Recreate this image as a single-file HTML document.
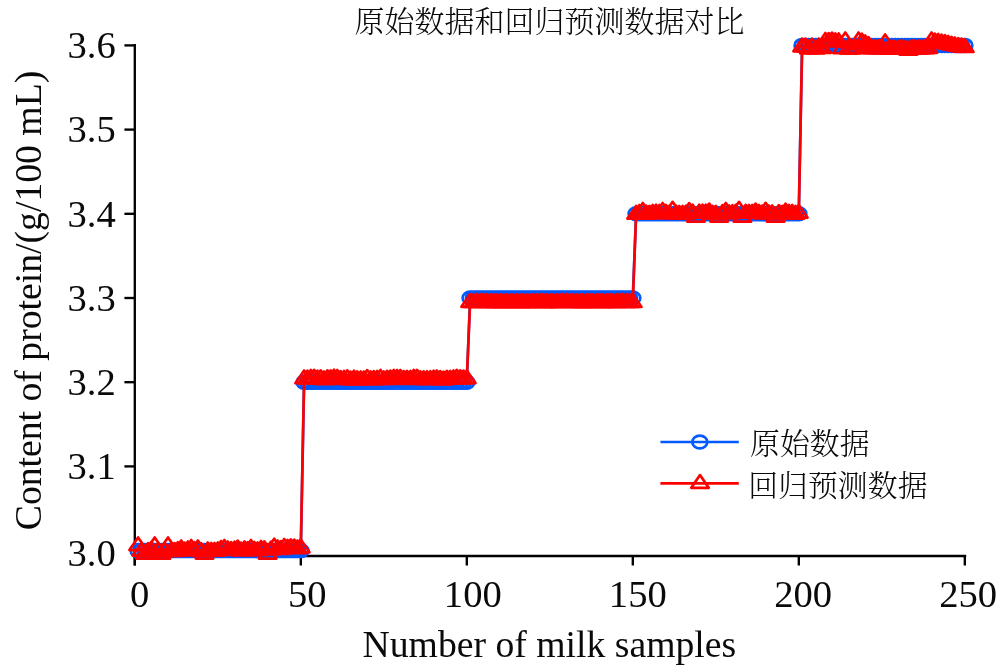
<!DOCTYPE html>
<html lang="zh"><head><meta charset="utf-8"><title>原始数据和回归预测数据对比</title>
<style>html,body{margin:0;padding:0;background:#fff}body{width:1000px;height:668px;overflow:hidden}svg{display:block}text{font-family:"Liberation Serif","Noto Serif CJK SC",serif;fill:#0a0a0a}.cj{font-family:"Liberation Serif","Noto Serif CJK SC",serif;font-size:29.9px;font-weight:300}.tk{font-size:38.6px}.lb{font-size:37.7px}</style></head><body>
<svg width="1000" height="668" viewBox="0 0 1000 668">
<rect width="1000" height="668" fill="#fff"/>
<text class="cj" x="549.6" y="31.5" style="font-size:30px" text-anchor="middle">原始数据和回归预测数据对比</text>
<g stroke="#000" stroke-width="2.35" fill="none" stroke-linecap="butt">
<path d="M134.8 44.1V565.5"/>
<path d="M133.5 556H966.2"/>
<path d="M124.4 466.4H134.8"/>
<path d="M124.4 382.2H134.8"/>
<path d="M124.4 298H134.8"/>
<path d="M124.4 213.8H134.8"/>
<path d="M124.4 129.6H134.8"/>
<path d="M124.4 45.4H134.8"/>
<path d="M134.8 556V565.5"/>
<path d="M300.8 556V565.5"/>
<path d="M466.8 556V565.5"/>
<path d="M632.8 556V565.5"/>
<path d="M798.8 556V565.5"/>
<path d="M964.8 556V565.5"/>
</g>
<text class="tk" x="115.7" y="566.3" text-anchor="end">3.0</text>
<text class="tk" x="115.7" y="479.1" text-anchor="end">3.1</text>
<text class="tk" x="115.7" y="394.9" text-anchor="end">3.2</text>
<text class="tk" x="115.7" y="310.7" text-anchor="end">3.3</text>
<text class="tk" x="115.7" y="226.5" text-anchor="end">3.4</text>
<text class="tk" x="115.7" y="142.3" text-anchor="end">3.5</text>
<text class="tk" x="115.7" y="58.1" text-anchor="end">3.6</text>
<text class="tk" x="139.6" y="606.7" text-anchor="middle">0</text>
<text class="tk" x="307.2" y="606.7" text-anchor="middle">50</text>
<text class="tk" x="472.8" y="606.7" text-anchor="middle">100</text>
<text class="tk" x="637.8" y="606.7" text-anchor="middle">150</text>
<text class="tk" x="803.2" y="606.7" text-anchor="middle">200</text>
<text class="tk" x="968.2" y="606.7" text-anchor="middle">250</text>
<text class="lb" x="549.4" y="656.7" text-anchor="middle">Number of milk samples</text>
<text class="lb" transform="translate(41.2 300.5) rotate(-90)" text-anchor="middle">Content of protein/(g/100 mL)</text>
<g stroke="#005aff" stroke-width="2.7" fill="none">
<polyline stroke-width="2.7" points="138.1,550.6 141.4,550.6 144.8,550.6 148.1,550.6 151.4,550.6 154.7,550.6 158,550.6 161.4,550.6 164.7,550.6 168,550.6 171.3,550.6 174.6,550.6 178,550.6 181.3,550.6 184.6,550.6 187.9,550.6 191.2,550.6 194.6,550.6 197.9,550.6 201.2,550.6 204.5,550.6 207.8,550.6 211.2,550.6 214.5,550.6 217.8,550.6 221.1,550.6 224.4,550.6 227.8,550.6 231.1,550.6 234.4,550.6 237.7,550.6 241,550.6 244.4,550.6 247.7,550.6 251,550.6 254.3,550.6 257.6,550.6 261,550.6 264.3,550.6 267.6,550.6 270.9,550.6 274.2,550.6 277.6,550.6 280.9,550.6 284.2,550.6 287.5,550.6 290.8,550.6 294.2,550.6 297.5,550.6 300.8,550.6 304.1,382.2 307.4,382.2 310.8,382.2 314.1,382.2 317.4,382.2 320.7,382.2 324,382.2 327.4,382.2 330.7,382.2 334,382.2 337.3,382.2 340.6,382.2 344,382.2 347.3,382.2 350.6,382.2 353.9,382.2 357.2,382.2 360.6,382.2 363.9,382.2 367.2,382.2 370.5,382.2 373.8,382.2 377.2,382.2 380.5,382.2 383.8,382.2 387.1,382.2 390.4,382.2 393.8,382.2 397.1,382.2 400.4,382.2 403.7,382.2 407,382.2 410.4,382.2 413.7,382.2 417,382.2 420.3,382.2 423.6,382.2 427,382.2 430.3,382.2 433.6,382.2 436.9,382.2 440.2,382.2 443.6,382.2 446.9,382.2 450.2,382.2 453.5,382.2 456.8,382.2 460.2,382.2 463.5,382.2 466.8,382.2 470.1,298 473.4,298 476.8,298 480.1,298 483.4,298 486.7,298 490,298 493.4,298 496.7,298 500,298 503.3,298 506.6,298 510,298 513.3,298 516.6,298 519.9,298 523.2,298 526.6,298 529.9,298 533.2,298 536.5,298 539.8,298 543.2,298 546.5,298 549.8,298 553.1,298 556.4,298 559.8,298 563.1,298 566.4,298 569.7,298 573,298 576.4,298 579.7,298 583,298 586.3,298 589.6,298 593,298 596.3,298 599.6,298 602.9,298 606.2,298 609.6,298 612.9,298 616.2,298 619.5,298 622.8,298 626.2,298 629.5,298 632.8,298 636.1,213.8 639.4,213.8 642.8,213.8 646.1,213.8 649.4,213.8 652.7,213.8 656,213.8 659.4,213.8 662.7,213.8 666,213.8 669.3,213.8 672.6,213.8 676,213.8 679.3,213.8 682.6,213.8 685.9,213.8 689.2,213.8 692.6,213.8 695.9,213.8 699.2,213.8 702.5,213.8 705.8,213.8 709.2,213.8 712.5,213.8 715.8,213.8 719.1,213.8 722.4,213.8 725.8,213.8 729.1,213.8 732.4,213.8 735.7,213.8 739,213.8 742.4,213.8 745.7,213.8 749,213.8 752.3,213.8 755.6,213.8 759,213.8 762.3,213.8 765.6,213.8 768.9,213.8 772.2,213.8 775.6,213.8 778.9,213.8 782.2,213.8 785.5,213.8 788.8,213.8 792.2,213.8 795.5,213.8 798.8,213.8 802.1,45.4 805.4,45.4 808.8,45.4 812.1,45.4 815.4,45.4 818.7,45.4 822,45.4 825.4,45.4 828.7,45.4 832,45.4 835.3,45.4 838.6,45.4 842,45.4 845.3,45.4 848.6,45.4 851.9,45.4 855.2,45.4 858.6,45.4 861.9,45.4 865.2,45.4 868.5,45.4 871.8,45.4 875.2,45.4 878.5,45.4 881.8,45.4 885.1,45.4 888.4,45.4 891.8,45.4 895.1,45.4 898.4,45.4 901.7,45.4 905,45.4 908.4,45.4 911.7,45.4 915,45.4 918.3,45.4 921.6,45.4 925,45.4 928.3,45.4 931.6,45.4 934.9,45.4 938.2,45.4 941.6,45.4 944.9,45.4 948.2,45.4 951.5,45.4 954.8,45.4 958.2,45.4 961.5,45.4 964.8,45.4"/>
<ellipse cx="138.1" cy="550.6" rx="7.5" ry="6.4"/>
<ellipse cx="141.4" cy="550.6" rx="7.5" ry="6.4"/>
<ellipse cx="144.8" cy="550.6" rx="7.5" ry="6.4"/>
<ellipse cx="148.1" cy="550.6" rx="7.5" ry="6.4"/>
<ellipse cx="151.4" cy="550.6" rx="7.5" ry="6.4"/>
<ellipse cx="154.7" cy="550.6" rx="7.5" ry="6.4"/>
<ellipse cx="158" cy="550.6" rx="7.5" ry="6.4"/>
<ellipse cx="161.4" cy="550.6" rx="7.5" ry="6.4"/>
<ellipse cx="164.7" cy="550.6" rx="7.5" ry="6.4"/>
<ellipse cx="168" cy="550.6" rx="7.5" ry="6.4"/>
<ellipse cx="171.3" cy="550.6" rx="7.5" ry="6.4"/>
<ellipse cx="174.6" cy="550.6" rx="7.5" ry="6.4"/>
<ellipse cx="178" cy="550.6" rx="7.5" ry="6.4"/>
<ellipse cx="181.3" cy="550.6" rx="7.5" ry="6.4"/>
<ellipse cx="184.6" cy="550.6" rx="7.5" ry="6.4"/>
<ellipse cx="187.9" cy="550.6" rx="7.5" ry="6.4"/>
<ellipse cx="191.2" cy="550.6" rx="7.5" ry="6.4"/>
<ellipse cx="194.6" cy="550.6" rx="7.5" ry="6.4"/>
<ellipse cx="197.9" cy="550.6" rx="7.5" ry="6.4"/>
<ellipse cx="201.2" cy="550.6" rx="7.5" ry="6.4"/>
<ellipse cx="204.5" cy="550.6" rx="7.5" ry="6.4"/>
<ellipse cx="207.8" cy="550.6" rx="7.5" ry="6.4"/>
<ellipse cx="211.2" cy="550.6" rx="7.5" ry="6.4"/>
<ellipse cx="214.5" cy="550.6" rx="7.5" ry="6.4"/>
<ellipse cx="217.8" cy="550.6" rx="7.5" ry="6.4"/>
<ellipse cx="221.1" cy="550.6" rx="7.5" ry="6.4"/>
<ellipse cx="224.4" cy="550.6" rx="7.5" ry="6.4"/>
<ellipse cx="227.8" cy="550.6" rx="7.5" ry="6.4"/>
<ellipse cx="231.1" cy="550.6" rx="7.5" ry="6.4"/>
<ellipse cx="234.4" cy="550.6" rx="7.5" ry="6.4"/>
<ellipse cx="237.7" cy="550.6" rx="7.5" ry="6.4"/>
<ellipse cx="241" cy="550.6" rx="7.5" ry="6.4"/>
<ellipse cx="244.4" cy="550.6" rx="7.5" ry="6.4"/>
<ellipse cx="247.7" cy="550.6" rx="7.5" ry="6.4"/>
<ellipse cx="251" cy="550.6" rx="7.5" ry="6.4"/>
<ellipse cx="254.3" cy="550.6" rx="7.5" ry="6.4"/>
<ellipse cx="257.6" cy="550.6" rx="7.5" ry="6.4"/>
<ellipse cx="261" cy="550.6" rx="7.5" ry="6.4"/>
<ellipse cx="264.3" cy="550.6" rx="7.5" ry="6.4"/>
<ellipse cx="267.6" cy="550.6" rx="7.5" ry="6.4"/>
<ellipse cx="270.9" cy="550.6" rx="7.5" ry="6.4"/>
<ellipse cx="274.2" cy="550.6" rx="7.5" ry="6.4"/>
<ellipse cx="277.6" cy="550.6" rx="7.5" ry="6.4"/>
<ellipse cx="280.9" cy="550.6" rx="7.5" ry="6.4"/>
<ellipse cx="284.2" cy="550.6" rx="7.5" ry="6.4"/>
<ellipse cx="287.5" cy="550.6" rx="7.5" ry="6.4"/>
<ellipse cx="290.8" cy="550.6" rx="7.5" ry="6.4"/>
<ellipse cx="294.2" cy="550.6" rx="7.5" ry="6.4"/>
<ellipse cx="297.5" cy="550.6" rx="7.5" ry="6.4"/>
<ellipse cx="300.8" cy="550.6" rx="7.5" ry="6.4"/>
<ellipse cx="304.1" cy="382.2" rx="7.5" ry="6.4"/>
<ellipse cx="307.4" cy="382.2" rx="7.5" ry="6.4"/>
<ellipse cx="310.8" cy="382.2" rx="7.5" ry="6.4"/>
<ellipse cx="314.1" cy="382.2" rx="7.5" ry="6.4"/>
<ellipse cx="317.4" cy="382.2" rx="7.5" ry="6.4"/>
<ellipse cx="320.7" cy="382.2" rx="7.5" ry="6.4"/>
<ellipse cx="324" cy="382.2" rx="7.5" ry="6.4"/>
<ellipse cx="327.4" cy="382.2" rx="7.5" ry="6.4"/>
<ellipse cx="330.7" cy="382.2" rx="7.5" ry="6.4"/>
<ellipse cx="334" cy="382.2" rx="7.5" ry="6.4"/>
<ellipse cx="337.3" cy="382.2" rx="7.5" ry="6.4"/>
<ellipse cx="340.6" cy="382.2" rx="7.5" ry="6.4"/>
<ellipse cx="344" cy="382.2" rx="7.5" ry="6.4"/>
<ellipse cx="347.3" cy="382.2" rx="7.5" ry="6.4"/>
<ellipse cx="350.6" cy="382.2" rx="7.5" ry="6.4"/>
<ellipse cx="353.9" cy="382.2" rx="7.5" ry="6.4"/>
<ellipse cx="357.2" cy="382.2" rx="7.5" ry="6.4"/>
<ellipse cx="360.6" cy="382.2" rx="7.5" ry="6.4"/>
<ellipse cx="363.9" cy="382.2" rx="7.5" ry="6.4"/>
<ellipse cx="367.2" cy="382.2" rx="7.5" ry="6.4"/>
<ellipse cx="370.5" cy="382.2" rx="7.5" ry="6.4"/>
<ellipse cx="373.8" cy="382.2" rx="7.5" ry="6.4"/>
<ellipse cx="377.2" cy="382.2" rx="7.5" ry="6.4"/>
<ellipse cx="380.5" cy="382.2" rx="7.5" ry="6.4"/>
<ellipse cx="383.8" cy="382.2" rx="7.5" ry="6.4"/>
<ellipse cx="387.1" cy="382.2" rx="7.5" ry="6.4"/>
<ellipse cx="390.4" cy="382.2" rx="7.5" ry="6.4"/>
<ellipse cx="393.8" cy="382.2" rx="7.5" ry="6.4"/>
<ellipse cx="397.1" cy="382.2" rx="7.5" ry="6.4"/>
<ellipse cx="400.4" cy="382.2" rx="7.5" ry="6.4"/>
<ellipse cx="403.7" cy="382.2" rx="7.5" ry="6.4"/>
<ellipse cx="407" cy="382.2" rx="7.5" ry="6.4"/>
<ellipse cx="410.4" cy="382.2" rx="7.5" ry="6.4"/>
<ellipse cx="413.7" cy="382.2" rx="7.5" ry="6.4"/>
<ellipse cx="417" cy="382.2" rx="7.5" ry="6.4"/>
<ellipse cx="420.3" cy="382.2" rx="7.5" ry="6.4"/>
<ellipse cx="423.6" cy="382.2" rx="7.5" ry="6.4"/>
<ellipse cx="427" cy="382.2" rx="7.5" ry="6.4"/>
<ellipse cx="430.3" cy="382.2" rx="7.5" ry="6.4"/>
<ellipse cx="433.6" cy="382.2" rx="7.5" ry="6.4"/>
<ellipse cx="436.9" cy="382.2" rx="7.5" ry="6.4"/>
<ellipse cx="440.2" cy="382.2" rx="7.5" ry="6.4"/>
<ellipse cx="443.6" cy="382.2" rx="7.5" ry="6.4"/>
<ellipse cx="446.9" cy="382.2" rx="7.5" ry="6.4"/>
<ellipse cx="450.2" cy="382.2" rx="7.5" ry="6.4"/>
<ellipse cx="453.5" cy="382.2" rx="7.5" ry="6.4"/>
<ellipse cx="456.8" cy="382.2" rx="7.5" ry="6.4"/>
<ellipse cx="460.2" cy="382.2" rx="7.5" ry="6.4"/>
<ellipse cx="463.5" cy="382.2" rx="7.5" ry="6.4"/>
<ellipse cx="466.8" cy="382.2" rx="7.5" ry="6.4"/>
<ellipse cx="470.1" cy="298" rx="7.5" ry="6.4"/>
<ellipse cx="473.4" cy="298" rx="7.5" ry="6.4"/>
<ellipse cx="476.8" cy="298" rx="7.5" ry="6.4"/>
<ellipse cx="480.1" cy="298" rx="7.5" ry="6.4"/>
<ellipse cx="483.4" cy="298" rx="7.5" ry="6.4"/>
<ellipse cx="486.7" cy="298" rx="7.5" ry="6.4"/>
<ellipse cx="490" cy="298" rx="7.5" ry="6.4"/>
<ellipse cx="493.4" cy="298" rx="7.5" ry="6.4"/>
<ellipse cx="496.7" cy="298" rx="7.5" ry="6.4"/>
<ellipse cx="500" cy="298" rx="7.5" ry="6.4"/>
<ellipse cx="503.3" cy="298" rx="7.5" ry="6.4"/>
<ellipse cx="506.6" cy="298" rx="7.5" ry="6.4"/>
<ellipse cx="510" cy="298" rx="7.5" ry="6.4"/>
<ellipse cx="513.3" cy="298" rx="7.5" ry="6.4"/>
<ellipse cx="516.6" cy="298" rx="7.5" ry="6.4"/>
<ellipse cx="519.9" cy="298" rx="7.5" ry="6.4"/>
<ellipse cx="523.2" cy="298" rx="7.5" ry="6.4"/>
<ellipse cx="526.6" cy="298" rx="7.5" ry="6.4"/>
<ellipse cx="529.9" cy="298" rx="7.5" ry="6.4"/>
<ellipse cx="533.2" cy="298" rx="7.5" ry="6.4"/>
<ellipse cx="536.5" cy="298" rx="7.5" ry="6.4"/>
<ellipse cx="539.8" cy="298" rx="7.5" ry="6.4"/>
<ellipse cx="543.2" cy="298" rx="7.5" ry="6.4"/>
<ellipse cx="546.5" cy="298" rx="7.5" ry="6.4"/>
<ellipse cx="549.8" cy="298" rx="7.5" ry="6.4"/>
<ellipse cx="553.1" cy="298" rx="7.5" ry="6.4"/>
<ellipse cx="556.4" cy="298" rx="7.5" ry="6.4"/>
<ellipse cx="559.8" cy="298" rx="7.5" ry="6.4"/>
<ellipse cx="563.1" cy="298" rx="7.5" ry="6.4"/>
<ellipse cx="566.4" cy="298" rx="7.5" ry="6.4"/>
<ellipse cx="569.7" cy="298" rx="7.5" ry="6.4"/>
<ellipse cx="573" cy="298" rx="7.5" ry="6.4"/>
<ellipse cx="576.4" cy="298" rx="7.5" ry="6.4"/>
<ellipse cx="579.7" cy="298" rx="7.5" ry="6.4"/>
<ellipse cx="583" cy="298" rx="7.5" ry="6.4"/>
<ellipse cx="586.3" cy="298" rx="7.5" ry="6.4"/>
<ellipse cx="589.6" cy="298" rx="7.5" ry="6.4"/>
<ellipse cx="593" cy="298" rx="7.5" ry="6.4"/>
<ellipse cx="596.3" cy="298" rx="7.5" ry="6.4"/>
<ellipse cx="599.6" cy="298" rx="7.5" ry="6.4"/>
<ellipse cx="602.9" cy="298" rx="7.5" ry="6.4"/>
<ellipse cx="606.2" cy="298" rx="7.5" ry="6.4"/>
<ellipse cx="609.6" cy="298" rx="7.5" ry="6.4"/>
<ellipse cx="612.9" cy="298" rx="7.5" ry="6.4"/>
<ellipse cx="616.2" cy="298" rx="7.5" ry="6.4"/>
<ellipse cx="619.5" cy="298" rx="7.5" ry="6.4"/>
<ellipse cx="622.8" cy="298" rx="7.5" ry="6.4"/>
<ellipse cx="626.2" cy="298" rx="7.5" ry="6.4"/>
<ellipse cx="629.5" cy="298" rx="7.5" ry="6.4"/>
<ellipse cx="632.8" cy="298" rx="7.5" ry="6.4"/>
<ellipse cx="636.1" cy="213.8" rx="7.5" ry="6.4"/>
<ellipse cx="639.4" cy="213.8" rx="7.5" ry="6.4"/>
<ellipse cx="642.8" cy="213.8" rx="7.5" ry="6.4"/>
<ellipse cx="646.1" cy="213.8" rx="7.5" ry="6.4"/>
<ellipse cx="649.4" cy="213.8" rx="7.5" ry="6.4"/>
<ellipse cx="652.7" cy="213.8" rx="7.5" ry="6.4"/>
<ellipse cx="656" cy="213.8" rx="7.5" ry="6.4"/>
<ellipse cx="659.4" cy="213.8" rx="7.5" ry="6.4"/>
<ellipse cx="662.7" cy="213.8" rx="7.5" ry="6.4"/>
<ellipse cx="666" cy="213.8" rx="7.5" ry="6.4"/>
<ellipse cx="669.3" cy="213.8" rx="7.5" ry="6.4"/>
<ellipse cx="672.6" cy="213.8" rx="7.5" ry="6.4"/>
<ellipse cx="676" cy="213.8" rx="7.5" ry="6.4"/>
<ellipse cx="679.3" cy="213.8" rx="7.5" ry="6.4"/>
<ellipse cx="682.6" cy="213.8" rx="7.5" ry="6.4"/>
<ellipse cx="685.9" cy="213.8" rx="7.5" ry="6.4"/>
<ellipse cx="689.2" cy="213.8" rx="7.5" ry="6.4"/>
<ellipse cx="692.6" cy="213.8" rx="7.5" ry="6.4"/>
<ellipse cx="695.9" cy="213.8" rx="7.5" ry="6.4"/>
<ellipse cx="699.2" cy="213.8" rx="7.5" ry="6.4"/>
<ellipse cx="702.5" cy="213.8" rx="7.5" ry="6.4"/>
<ellipse cx="705.8" cy="213.8" rx="7.5" ry="6.4"/>
<ellipse cx="709.2" cy="213.8" rx="7.5" ry="6.4"/>
<ellipse cx="712.5" cy="213.8" rx="7.5" ry="6.4"/>
<ellipse cx="715.8" cy="213.8" rx="7.5" ry="6.4"/>
<ellipse cx="719.1" cy="213.8" rx="7.5" ry="6.4"/>
<ellipse cx="722.4" cy="213.8" rx="7.5" ry="6.4"/>
<ellipse cx="725.8" cy="213.8" rx="7.5" ry="6.4"/>
<ellipse cx="729.1" cy="213.8" rx="7.5" ry="6.4"/>
<ellipse cx="732.4" cy="213.8" rx="7.5" ry="6.4"/>
<ellipse cx="735.7" cy="213.8" rx="7.5" ry="6.4"/>
<ellipse cx="739" cy="213.8" rx="7.5" ry="6.4"/>
<ellipse cx="742.4" cy="213.8" rx="7.5" ry="6.4"/>
<ellipse cx="745.7" cy="213.8" rx="7.5" ry="6.4"/>
<ellipse cx="749" cy="213.8" rx="7.5" ry="6.4"/>
<ellipse cx="752.3" cy="213.8" rx="7.5" ry="6.4"/>
<ellipse cx="755.6" cy="213.8" rx="7.5" ry="6.4"/>
<ellipse cx="759" cy="213.8" rx="7.5" ry="6.4"/>
<ellipse cx="762.3" cy="213.8" rx="7.5" ry="6.4"/>
<ellipse cx="765.6" cy="213.8" rx="7.5" ry="6.4"/>
<ellipse cx="768.9" cy="213.8" rx="7.5" ry="6.4"/>
<ellipse cx="772.2" cy="213.8" rx="7.5" ry="6.4"/>
<ellipse cx="775.6" cy="213.8" rx="7.5" ry="6.4"/>
<ellipse cx="778.9" cy="213.8" rx="7.5" ry="6.4"/>
<ellipse cx="782.2" cy="213.8" rx="7.5" ry="6.4"/>
<ellipse cx="785.5" cy="213.8" rx="7.5" ry="6.4"/>
<ellipse cx="788.8" cy="213.8" rx="7.5" ry="6.4"/>
<ellipse cx="792.2" cy="213.8" rx="7.5" ry="6.4"/>
<ellipse cx="795.5" cy="213.8" rx="7.5" ry="6.4"/>
<ellipse cx="798.8" cy="213.8" rx="7.5" ry="6.4"/>
<ellipse cx="802.1" cy="45.4" rx="7.5" ry="6.4"/>
<ellipse cx="805.4" cy="45.4" rx="7.5" ry="6.4"/>
<ellipse cx="808.8" cy="45.4" rx="7.5" ry="6.4"/>
<ellipse cx="812.1" cy="45.4" rx="7.5" ry="6.4"/>
<ellipse cx="815.4" cy="45.4" rx="7.5" ry="6.4"/>
<ellipse cx="818.7" cy="45.4" rx="7.5" ry="6.4"/>
<ellipse cx="822" cy="45.4" rx="7.5" ry="6.4"/>
<ellipse cx="825.4" cy="45.4" rx="7.5" ry="6.4"/>
<ellipse cx="828.7" cy="45.4" rx="7.5" ry="6.4"/>
<ellipse cx="832" cy="45.4" rx="7.5" ry="6.4"/>
<ellipse cx="835.3" cy="45.4" rx="7.5" ry="6.4"/>
<ellipse cx="838.6" cy="45.4" rx="7.5" ry="6.4"/>
<ellipse cx="842" cy="45.4" rx="7.5" ry="6.4"/>
<ellipse cx="845.3" cy="45.4" rx="7.5" ry="6.4"/>
<ellipse cx="848.6" cy="45.4" rx="7.5" ry="6.4"/>
<ellipse cx="851.9" cy="45.4" rx="7.5" ry="6.4"/>
<ellipse cx="855.2" cy="45.4" rx="7.5" ry="6.4"/>
<ellipse cx="858.6" cy="45.4" rx="7.5" ry="6.4"/>
<ellipse cx="861.9" cy="45.4" rx="7.5" ry="6.4"/>
<ellipse cx="865.2" cy="45.4" rx="7.5" ry="6.4"/>
<ellipse cx="868.5" cy="45.4" rx="7.5" ry="6.4"/>
<ellipse cx="871.8" cy="45.4" rx="7.5" ry="6.4"/>
<ellipse cx="875.2" cy="45.4" rx="7.5" ry="6.4"/>
<ellipse cx="878.5" cy="45.4" rx="7.5" ry="6.4"/>
<ellipse cx="881.8" cy="45.4" rx="7.5" ry="6.4"/>
<ellipse cx="885.1" cy="45.4" rx="7.5" ry="6.4"/>
<ellipse cx="888.4" cy="45.4" rx="7.5" ry="6.4"/>
<ellipse cx="891.8" cy="45.4" rx="7.5" ry="6.4"/>
<ellipse cx="895.1" cy="45.4" rx="7.5" ry="6.4"/>
<ellipse cx="898.4" cy="45.4" rx="7.5" ry="6.4"/>
<ellipse cx="901.7" cy="45.4" rx="7.5" ry="6.4"/>
<ellipse cx="905" cy="45.4" rx="7.5" ry="6.4"/>
<ellipse cx="908.4" cy="45.4" rx="7.5" ry="6.4"/>
<ellipse cx="911.7" cy="45.4" rx="7.5" ry="6.4"/>
<ellipse cx="915" cy="45.4" rx="7.5" ry="6.4"/>
<ellipse cx="918.3" cy="45.4" rx="7.5" ry="6.4"/>
<ellipse cx="921.6" cy="45.4" rx="7.5" ry="6.4"/>
<ellipse cx="925" cy="45.4" rx="7.5" ry="6.4"/>
<ellipse cx="928.3" cy="45.4" rx="7.5" ry="6.4"/>
<ellipse cx="931.6" cy="45.4" rx="7.5" ry="6.4"/>
<ellipse cx="934.9" cy="45.4" rx="7.5" ry="6.4"/>
<ellipse cx="938.2" cy="45.4" rx="7.5" ry="6.4"/>
<ellipse cx="941.6" cy="45.4" rx="7.5" ry="6.4"/>
<ellipse cx="944.9" cy="45.4" rx="7.5" ry="6.4"/>
<ellipse cx="948.2" cy="45.4" rx="7.5" ry="6.4"/>
<ellipse cx="951.5" cy="45.4" rx="7.5" ry="6.4"/>
<ellipse cx="954.8" cy="45.4" rx="7.5" ry="6.4"/>
<ellipse cx="958.2" cy="45.4" rx="7.5" ry="6.4"/>
<ellipse cx="961.5" cy="45.4" rx="7.5" ry="6.4"/>
<ellipse cx="964.8" cy="45.4" rx="7.5" ry="6.4"/>
</g>
<g stroke="#ff0000" stroke-width="2.7" fill="none" stroke-linejoin="round">
<polyline stroke-width="2.7" points="138.1,545.7 141.4,551.2 144.8,554.2 148.1,551.4 151.4,550.1 154.7,545.7 158,551.4 161.4,554.2 164.7,551.5 168,545.7 171.3,551.4 174.6,551.4 178,550.4 181.3,548.8 184.6,551 187.9,549.8 191.2,548.3 194.6,550.5 197.9,548.8 201.2,551.5 204.5,554.2 207.8,550.8 211.2,551.2 214.5,551.3 217.8,550.7 221.1,549.3 224.4,548.3 227.8,549.8 231.1,550.5 234.4,550 237.7,548.9 241,551 244.4,549.7 247.7,550.4 251,548.3 254.3,550.3 257.6,550.8 261,549.3 264.3,549.6 267.6,554.2 270.9,550 274.2,547 277.6,548.8 280.9,549.4 284.2,547.3 287.5,548.2 290.8,547.6 294.2,547.9 297.5,548.8 300.8,547.9 304.1,378.8 307.4,379 310.8,378.3 314.1,378.1 317.4,379 320.7,378.6 324,379.8 327.4,378.6 330.7,378.7 334,378 337.3,378.3 340.6,379.4 344,379.2 347.3,378.6 350.6,379.9 353.9,379 357.2,379.6 360.6,379.7 363.9,379.8 367.2,378.4 370.5,379.7 373.8,379.4 377.2,379.2 380.5,378.2 383.8,379.8 387.1,379.1 390.4,378.9 393.8,378.2 397.1,378.3 400.4,378.3 403.7,379.4 407,379.1 410.4,379.2 413.7,378.2 417,378.1 420.3,379.6 423.6,379.6 427,379.5 430.3,379.5 433.6,379 436.9,378.8 440.2,379.4 443.6,379.9 446.9,379.1 450.2,379.2 453.5,378.8 456.8,378.1 460.2,378.6 463.5,378.9 466.8,378.7 470.1,302.4 473.4,302.6 476.8,302.3 480.1,302.4 483.4,302.3 486.7,302.4 490,302.5 493.4,302.5 496.7,302.6 500,302.4 503.3,302.6 506.6,302.6 510,302.6 513.3,302.6 516.6,302.5 519.9,302.6 523.2,302.6 526.6,302.6 529.9,302.6 533.2,302.5 536.5,302.6 539.8,302.3 543.2,302.4 546.5,302.6 549.8,302.5 553.1,302.5 556.4,302.5 559.8,302.6 563.1,302.3 566.4,302.3 569.7,302.5 573,302.5 576.4,302.6 579.7,302.6 583,302.5 586.3,302.5 589.6,302.4 593,302.6 596.3,302.6 599.6,302.3 602.9,302.5 606.2,302.6 609.6,302.4 612.9,302.6 616.2,302.5 619.5,302.3 622.8,302.3 626.2,302.4 629.5,302.5 632.8,302.5 636.1,214.2 639.4,213.3 642.8,211.3 646.1,213.9 649.4,214.1 652.7,213.2 656,213 659.4,213.2 662.7,211.3 666,213.3 669.3,214.1 672.6,210.1 676,213.9 679.3,214.3 682.6,214.3 685.9,214 689.2,211.4 692.6,213 695.9,217.2 699.2,213 702.5,213 705.8,213 709.2,211.9 712.5,214.1 715.8,214.1 719.1,217.2 722.4,213.5 725.8,211.3 729.1,213.7 732.4,213.5 735.7,213.2 739,210.1 742.4,217.2 745.7,213.1 749,213.3 752.3,213.3 755.6,211.9 759,213.3 762.3,213.9 765.6,211.1 768.9,213.8 772.2,213.8 775.6,217.2 778.9,213.4 782.2,214.1 785.5,212 788.8,213.1 792.2,213.2 795.5,214.2 798.8,213.2 802.1,46.9 805.4,46.9 808.8,48.9 812.1,46.9 815.4,49.1 818.7,46.9 822,48.5 825.4,41.3 828.7,41.4 832,40.9 835.3,41.7 838.6,41.7 842,48.7 845.3,40.8 848.6,48.9 851.9,49.1 855.2,48.5 858.6,40.8 861.9,42 865.2,43.7 868.5,45.4 871.8,48.9 875.2,48.5 878.5,48.8 881.8,48.8 885.1,42.7 888.4,49.2 891.8,48.9 895.1,49.1 898.4,49.2 901.7,48.6 905,49.1 908.4,50.3 911.7,48.6 915,48.8 918.3,48.9 921.6,48.8 925,48.8 928.3,48.6 931.6,40.8 934.9,41.9 938.2,42.2 941.6,43 944.9,43.4 948.2,44.3 951.5,45.1 954.8,45.8 958.2,46.4 961.5,46.9 964.8,47.5"/>
<path d="M138.1 537.4L146.8 550.1H129.4Z"/>
<path d="M141.4 542.9L150.1 555.6H132.7Z"/>
<path d="M144.8 545.9L153.5 558.6H136.1Z"/>
<path d="M148.1 543.1L156.8 555.8H139.4Z"/>
<path d="M151.4 541.8L160.1 554.5H142.7Z"/>
<path d="M154.7 537.4L163.4 550.1H146Z"/>
<path d="M158 543.1L166.7 555.8H149.3Z"/>
<path d="M161.4 545.9L170.1 558.6H152.7Z"/>
<path d="M164.7 543.2L173.4 555.9H156Z"/>
<path d="M168 537.4L176.7 550.1H159.3Z"/>
<path d="M171.3 543.1L180 555.8H162.6Z"/>
<path d="M174.6 543.1L183.3 555.8H165.9Z"/>
<path d="M178 542.1L186.7 554.8H169.3Z"/>
<path d="M181.3 540.5L190 553.2H172.6Z"/>
<path d="M184.6 542.7L193.3 555.4H175.9Z"/>
<path d="M187.9 541.5L196.6 554.2H179.2Z"/>
<path d="M191.2 540L199.9 552.7H182.5Z"/>
<path d="M194.6 542.2L203.3 554.9H185.9Z"/>
<path d="M197.9 540.5L206.6 553.2H189.2Z"/>
<path d="M201.2 543.2L209.9 555.9H192.5Z"/>
<path d="M204.5 545.9L213.2 558.6H195.8Z"/>
<path d="M207.8 542.5L216.5 555.2H199.1Z"/>
<path d="M211.2 542.9L219.9 555.6H202.5Z"/>
<path d="M214.5 543L223.2 555.7H205.8Z"/>
<path d="M217.8 542.4L226.5 555.1H209.1Z"/>
<path d="M221.1 541L229.8 553.7H212.4Z"/>
<path d="M224.4 540L233.1 552.7H215.7Z"/>
<path d="M227.8 541.5L236.5 554.2H219.1Z"/>
<path d="M231.1 542.2L239.8 554.9H222.4Z"/>
<path d="M234.4 541.7L243.1 554.4H225.7Z"/>
<path d="M237.7 540.6L246.4 553.3H229Z"/>
<path d="M241 542.7L249.7 555.4H232.3Z"/>
<path d="M244.4 541.4L253.1 554.1H235.7Z"/>
<path d="M247.7 542.1L256.4 554.8H239Z"/>
<path d="M251 540L259.7 552.7H242.3Z"/>
<path d="M254.3 542L263 554.7H245.6Z"/>
<path d="M257.6 542.5L266.3 555.2H248.9Z"/>
<path d="M261 541L269.7 553.7H252.3Z"/>
<path d="M264.3 541.3L273 554H255.6Z"/>
<path d="M267.6 545.9L276.3 558.6H258.9Z"/>
<path d="M270.9 541.7L279.6 554.4H262.2Z"/>
<path d="M274.2 538.7L282.9 551.4H265.5Z"/>
<path d="M277.6 540.5L286.3 553.2H268.9Z"/>
<path d="M280.9 541.1L289.6 553.8H272.2Z"/>
<path d="M284.2 539L292.9 551.7H275.5Z"/>
<path d="M287.5 539.9L296.2 552.6H278.8Z"/>
<path d="M290.8 539.3L299.5 552H282.1Z"/>
<path d="M294.2 539.6L302.9 552.3H285.5Z"/>
<path d="M297.5 540.5L306.2 553.2H288.8Z"/>
<path d="M300.8 539.6L309.5 552.3H292.1Z"/>
<path d="M304.1 370.5L312.8 383.2H295.4Z"/>
<path d="M307.4 370.7L316.1 383.4H298.7Z"/>
<path d="M310.8 370L319.5 382.7H302.1Z"/>
<path d="M314.1 369.8L322.8 382.5H305.4Z"/>
<path d="M317.4 370.7L326.1 383.4H308.7Z"/>
<path d="M320.7 370.3L329.4 383H312Z"/>
<path d="M324 371.5L332.7 384.2H315.3Z"/>
<path d="M327.4 370.3L336.1 383H318.7Z"/>
<path d="M330.7 370.4L339.4 383.1H322Z"/>
<path d="M334 369.7L342.7 382.4H325.3Z"/>
<path d="M337.3 370L346 382.7H328.6Z"/>
<path d="M340.6 371.1L349.3 383.8H331.9Z"/>
<path d="M344 370.9L352.7 383.6H335.3Z"/>
<path d="M347.3 370.3L356 383H338.6Z"/>
<path d="M350.6 371.6L359.3 384.3H341.9Z"/>
<path d="M353.9 370.7L362.6 383.4H345.2Z"/>
<path d="M357.2 371.3L365.9 384H348.5Z"/>
<path d="M360.6 371.4L369.3 384.1H351.9Z"/>
<path d="M363.9 371.5L372.6 384.2H355.2Z"/>
<path d="M367.2 370.1L375.9 382.8H358.5Z"/>
<path d="M370.5 371.4L379.2 384.1H361.8Z"/>
<path d="M373.8 371.1L382.5 383.8H365.1Z"/>
<path d="M377.2 370.9L385.9 383.6H368.5Z"/>
<path d="M380.5 369.9L389.2 382.6H371.8Z"/>
<path d="M383.8 371.5L392.5 384.2H375.1Z"/>
<path d="M387.1 370.8L395.8 383.5H378.4Z"/>
<path d="M390.4 370.6L399.1 383.3H381.7Z"/>
<path d="M393.8 369.9L402.5 382.6H385.1Z"/>
<path d="M397.1 370L405.8 382.7H388.4Z"/>
<path d="M400.4 370L409.1 382.7H391.7Z"/>
<path d="M403.7 371.1L412.4 383.8H395Z"/>
<path d="M407 370.8L415.7 383.5H398.3Z"/>
<path d="M410.4 370.9L419.1 383.6H401.7Z"/>
<path d="M413.7 369.9L422.4 382.6H405Z"/>
<path d="M417 369.8L425.7 382.5H408.3Z"/>
<path d="M420.3 371.3L429 384H411.6Z"/>
<path d="M423.6 371.3L432.3 384H414.9Z"/>
<path d="M427 371.2L435.7 383.9H418.3Z"/>
<path d="M430.3 371.2L439 383.9H421.6Z"/>
<path d="M433.6 370.7L442.3 383.4H424.9Z"/>
<path d="M436.9 370.5L445.6 383.2H428.2Z"/>
<path d="M440.2 371.1L448.9 383.8H431.5Z"/>
<path d="M443.6 371.6L452.3 384.3H434.9Z"/>
<path d="M446.9 370.8L455.6 383.5H438.2Z"/>
<path d="M450.2 370.9L458.9 383.6H441.5Z"/>
<path d="M453.5 370.5L462.2 383.2H444.8Z"/>
<path d="M456.8 369.8L465.5 382.5H448.1Z"/>
<path d="M460.2 370.3L468.9 383H451.5Z"/>
<path d="M463.5 370.6L472.2 383.3H454.8Z"/>
<path d="M466.8 370.4L475.5 383.1H458.1Z"/>
<path d="M470.1 294.1L478.8 306.8H461.4Z"/>
<path d="M473.4 294.3L482.1 307H464.7Z"/>
<path d="M476.8 294L485.5 306.7H468.1Z"/>
<path d="M480.1 294.1L488.8 306.8H471.4Z"/>
<path d="M483.4 294L492.1 306.7H474.7Z"/>
<path d="M486.7 294.1L495.4 306.8H478Z"/>
<path d="M490 294.2L498.7 306.9H481.3Z"/>
<path d="M493.4 294.2L502.1 306.9H484.7Z"/>
<path d="M496.7 294.3L505.4 307H488Z"/>
<path d="M500 294.1L508.7 306.8H491.3Z"/>
<path d="M503.3 294.3L512 307H494.6Z"/>
<path d="M506.6 294.3L515.3 307H497.9Z"/>
<path d="M510 294.3L518.7 307H501.3Z"/>
<path d="M513.3 294.3L522 307H504.6Z"/>
<path d="M516.6 294.2L525.3 306.9H507.9Z"/>
<path d="M519.9 294.3L528.6 307H511.2Z"/>
<path d="M523.2 294.3L531.9 307H514.5Z"/>
<path d="M526.6 294.3L535.3 307H517.9Z"/>
<path d="M529.9 294.3L538.6 307H521.2Z"/>
<path d="M533.2 294.2L541.9 306.9H524.5Z"/>
<path d="M536.5 294.3L545.2 307H527.8Z"/>
<path d="M539.8 294L548.5 306.7H531.1Z"/>
<path d="M543.2 294.1L551.9 306.8H534.5Z"/>
<path d="M546.5 294.3L555.2 307H537.8Z"/>
<path d="M549.8 294.2L558.5 306.9H541.1Z"/>
<path d="M553.1 294.2L561.8 306.9H544.4Z"/>
<path d="M556.4 294.2L565.1 306.9H547.7Z"/>
<path d="M559.8 294.3L568.5 307H551.1Z"/>
<path d="M563.1 294L571.8 306.7H554.4Z"/>
<path d="M566.4 294L575.1 306.7H557.7Z"/>
<path d="M569.7 294.2L578.4 306.9H561Z"/>
<path d="M573 294.2L581.7 306.9H564.3Z"/>
<path d="M576.4 294.3L585.1 307H567.7Z"/>
<path d="M579.7 294.3L588.4 307H571Z"/>
<path d="M583 294.2L591.7 306.9H574.3Z"/>
<path d="M586.3 294.2L595 306.9H577.6Z"/>
<path d="M589.6 294.1L598.3 306.8H580.9Z"/>
<path d="M593 294.3L601.7 307H584.3Z"/>
<path d="M596.3 294.3L605 307H587.6Z"/>
<path d="M599.6 294L608.3 306.7H590.9Z"/>
<path d="M602.9 294.2L611.6 306.9H594.2Z"/>
<path d="M606.2 294.3L614.9 307H597.5Z"/>
<path d="M609.6 294.1L618.3 306.8H600.9Z"/>
<path d="M612.9 294.3L621.6 307H604.2Z"/>
<path d="M616.2 294.2L624.9 306.9H607.5Z"/>
<path d="M619.5 294L628.2 306.7H610.8Z"/>
<path d="M622.8 294L631.5 306.7H614.1Z"/>
<path d="M626.2 294.1L634.9 306.8H617.5Z"/>
<path d="M629.5 294.2L638.2 306.9H620.8Z"/>
<path d="M632.8 294.2L641.5 306.9H624.1Z"/>
<path d="M636.1 205.9L644.8 218.6H627.4Z"/>
<path d="M639.4 205L648.1 217.7H630.7Z"/>
<path d="M642.8 203L651.5 215.7H634.1Z"/>
<path d="M646.1 205.6L654.8 218.3H637.4Z"/>
<path d="M649.4 205.8L658.1 218.5H640.7Z"/>
<path d="M652.7 204.9L661.4 217.6H644Z"/>
<path d="M656 204.7L664.7 217.4H647.3Z"/>
<path d="M659.4 204.9L668.1 217.6H650.7Z"/>
<path d="M662.7 203L671.4 215.7H654Z"/>
<path d="M666 205L674.7 217.7H657.3Z"/>
<path d="M669.3 205.8L678 218.5H660.6Z"/>
<path d="M672.6 201.8L681.3 214.5H663.9Z"/>
<path d="M676 205.6L684.7 218.3H667.3Z"/>
<path d="M679.3 206L688 218.7H670.6Z"/>
<path d="M682.6 206L691.3 218.7H673.9Z"/>
<path d="M685.9 205.7L694.6 218.4H677.2Z"/>
<path d="M689.2 203.1L697.9 215.8H680.5Z"/>
<path d="M692.6 204.7L701.3 217.4H683.9Z"/>
<path d="M695.9 208.9L704.6 221.6H687.2Z"/>
<path d="M699.2 204.7L707.9 217.4H690.5Z"/>
<path d="M702.5 204.7L711.2 217.4H693.8Z"/>
<path d="M705.8 204.7L714.5 217.4H697.1Z"/>
<path d="M709.2 203.6L717.9 216.3H700.5Z"/>
<path d="M712.5 205.8L721.2 218.5H703.8Z"/>
<path d="M715.8 205.8L724.5 218.5H707.1Z"/>
<path d="M719.1 208.9L727.8 221.6H710.4Z"/>
<path d="M722.4 205.2L731.1 217.9H713.7Z"/>
<path d="M725.8 203L734.5 215.7H717.1Z"/>
<path d="M729.1 205.4L737.8 218.1H720.4Z"/>
<path d="M732.4 205.2L741.1 217.9H723.7Z"/>
<path d="M735.7 204.9L744.4 217.6H727Z"/>
<path d="M739 201.8L747.7 214.5H730.3Z"/>
<path d="M742.4 208.9L751.1 221.6H733.7Z"/>
<path d="M745.7 204.8L754.4 217.5H737Z"/>
<path d="M749 205L757.7 217.7H740.3Z"/>
<path d="M752.3 205L761 217.7H743.6Z"/>
<path d="M755.6 203.6L764.3 216.3H746.9Z"/>
<path d="M759 205L767.7 217.7H750.3Z"/>
<path d="M762.3 205.6L771 218.3H753.6Z"/>
<path d="M765.6 202.8L774.3 215.5H756.9Z"/>
<path d="M768.9 205.5L777.6 218.2H760.2Z"/>
<path d="M772.2 205.5L780.9 218.2H763.5Z"/>
<path d="M775.6 208.9L784.3 221.6H766.9Z"/>
<path d="M778.9 205.1L787.6 217.8H770.2Z"/>
<path d="M782.2 205.8L790.9 218.5H773.5Z"/>
<path d="M785.5 203.7L794.2 216.4H776.8Z"/>
<path d="M788.8 204.8L797.5 217.5H780.1Z"/>
<path d="M792.2 204.9L800.9 217.6H783.5Z"/>
<path d="M795.5 205.9L804.2 218.6H786.8Z"/>
<path d="M798.8 204.9L807.5 217.6H790.1Z"/>
<path d="M802.1 38.6L810.8 51.3H793.4Z"/>
<path d="M805.4 38.6L814.1 51.3H796.7Z"/>
<path d="M808.8 40.6L817.5 53.3H800.1Z"/>
<path d="M812.1 38.6L820.8 51.3H803.4Z"/>
<path d="M815.4 40.8L824.1 53.5H806.7Z"/>
<path d="M818.7 38.6L827.4 51.3H810Z"/>
<path d="M822 40.2L830.7 52.9H813.3Z"/>
<path d="M825.4 33L834.1 45.7H816.7Z"/>
<path d="M828.7 33.1L837.4 45.8H820Z"/>
<path d="M832 32.6L840.7 45.3H823.3Z"/>
<path d="M835.3 33.4L844 46.1H826.6Z"/>
<path d="M838.6 33.4L847.3 46.1H829.9Z"/>
<path d="M842 40.4L850.7 53.1H833.3Z"/>
<path d="M845.3 32.5L854 45.2H836.6Z"/>
<path d="M848.6 40.6L857.3 53.3H839.9Z"/>
<path d="M851.9 40.8L860.6 53.5H843.2Z"/>
<path d="M855.2 40.2L863.9 52.9H846.5Z"/>
<path d="M858.6 32.5L867.3 45.2H849.9Z"/>
<path d="M861.9 33.7L870.6 46.4H853.2Z"/>
<path d="M865.2 35.4L873.9 48.1H856.5Z"/>
<path d="M868.5 37.1L877.2 49.8H859.8Z"/>
<path d="M871.8 40.6L880.5 53.3H863.1Z"/>
<path d="M875.2 40.2L883.9 52.9H866.5Z"/>
<path d="M878.5 40.5L887.2 53.2H869.8Z"/>
<path d="M881.8 40.5L890.5 53.2H873.1Z"/>
<path d="M885.1 34.4L893.8 47.1H876.4Z"/>
<path d="M888.4 40.9L897.1 53.6H879.7Z"/>
<path d="M891.8 40.6L900.5 53.3H883.1Z"/>
<path d="M895.1 40.8L903.8 53.5H886.4Z"/>
<path d="M898.4 40.9L907.1 53.6H889.7Z"/>
<path d="M901.7 40.3L910.4 53H893Z"/>
<path d="M905 40.8L913.7 53.5H896.3Z"/>
<path d="M908.4 42L917.1 54.7H899.7Z"/>
<path d="M911.7 40.3L920.4 53H903Z"/>
<path d="M915 40.5L923.7 53.2H906.3Z"/>
<path d="M918.3 40.6L927 53.3H909.6Z"/>
<path d="M921.6 40.5L930.3 53.2H912.9Z"/>
<path d="M925 40.5L933.7 53.2H916.3Z"/>
<path d="M928.3 40.3L937 53H919.6Z"/>
<path d="M931.6 32.5L940.3 45.2H922.9Z"/>
<path d="M934.9 33.6L943.6 46.3H926.2Z"/>
<path d="M938.2 33.9L946.9 46.6H929.5Z"/>
<path d="M941.6 34.7L950.3 47.4H932.9Z"/>
<path d="M944.9 35.1L953.6 47.8H936.2Z"/>
<path d="M948.2 36L956.9 48.7H939.5Z"/>
<path d="M951.5 36.8L960.2 49.5H942.8Z"/>
<path d="M954.8 37.5L963.5 50.2H946.1Z"/>
<path d="M958.2 38.1L966.9 50.8H949.5Z"/>
<path d="M961.5 38.6L970.2 51.3H952.8Z"/>
<path d="M964.8 39.2L973.5 51.9H956.1Z"/>
</g>
<g fill="none" stroke-width="2.6">
<path stroke="#005aff" d="M660.4 442H738.8"/><ellipse stroke="#005aff" stroke-width="2.7" cx="699.8" cy="442" rx="7.5" ry="6.4"/>
<path stroke="#ff0000" d="M660.4 483.4H738.8"/><path stroke="#ff0000" stroke-width="2.7" stroke-linejoin="round" d="M700 475.1L708.7 487.8H691.3Z"/>
</g>
<text class="cj" x="750" y="453.6">原始数据</text>
<text class="cj" x="748.2" y="496">回归预测数据</text>
</svg></body></html>
